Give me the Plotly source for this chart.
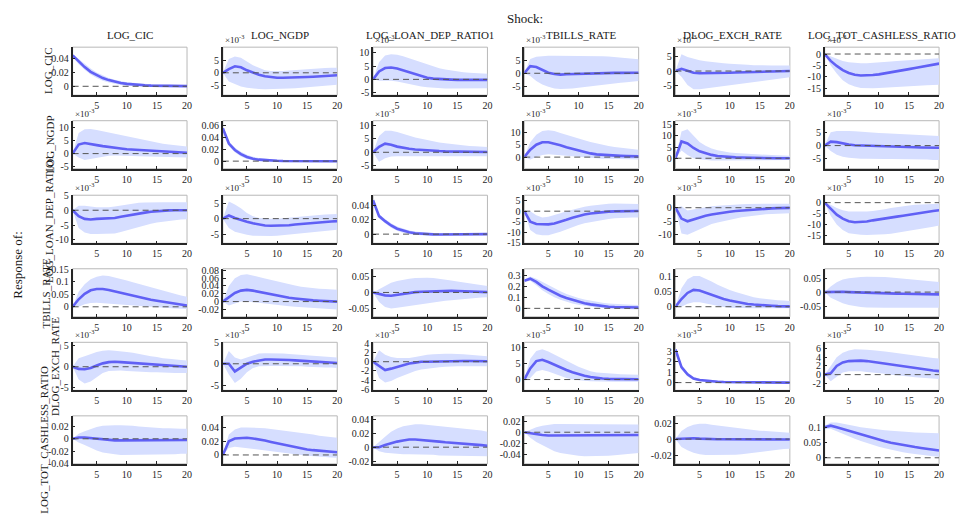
import plotly.graph_objects as go

# ---------------- data ----------------
horizon = list(range(1, 21))
shock_names = ["LOG_CIC", "LOG_NGDP", "LOG_LOAN_DEP_RATIO1", "TBILLS_RATE", "DLOG_EXCH_RATE", "LOG_TOT_CASHLESS_RATIO"]
response_names = ["LOG_CIC", "LOG_NGDP", "LOG_LOAN_DEP_RATIO1", "TBILLS_RATE", "DLOG_EXCH_RATE", "LOG_TOT_CASHLESS_RATIO"]

# Row 1: response of LOG_CIC (values in displayed units, see exponents)
irf_r1 = [
    [0.045,0.036,0.028,0.021,0.016,0.012,0.009,0.0065,0.0048,0.0035,0.0026,0.0019,0.0014,0.001,0.0008,0.0006,0.0005,0.0004,0.0003,0.0002],
    [0,1.5,2.6,2.2,1.0,0,-0.8,-1.4,-1.8,-2.0,-2.0,-2.0,-1.9,-1.8,-1.7,-1.6,-1.5,-1.3,-1.2,-1.0],
    [0,3,4.3,4.5,4.1,3.4,2.6,1.8,1.1,0.6,0.3,0.1,0,-0.1,-0.2,-0.2,-0.2,-0.2,-0.2,-0.2],
    [0,2.7,2.4,1.2,0.2,-0.3,-0.5,-0.4,-0.3,-0.2,-0.1,0,0.05,0.1,0.1,0.15,0.15,0.2,0.2,0.2],
    [0,0.8,0.1,-0.6,-0.8,-0.8,-0.8,-0.8,-0.7,-0.6,-0.5,-0.45,-0.4,-0.3,-0.25,-0.2,-0.15,-0.1,-0.05,0],
    [0,-3,-5.2,-7,-8.3,-9.1,-9.4,-9.4,-9.2,-8.9,-8.5,-8.1,-7.6,-7.1,-6.6,-6.1,-5.6,-5.1,-4.6,-4.2],
]
hi_r1 = [
    [0.047,0.040,0.032,0.026,0.020,0.016,0.012,0.0095,0.0075,0.006,0.005,0.004,0.0035,0.003,0.0025,0.0022,0.002,0.0018,0.0016,0.0015],
    [0,5.5,6.5,6,4.5,3,2,1,0.7,0.6,0.7,0.9,1.1,1.3,1.5,1.7,1.8,1.9,2,2],
    [0,6.5,9,9.5,9.3,8.8,8,7.2,6.3,5.5,4.8,4.2,3.7,3.3,3,2.7,2.5,2.3,2.2,2.1],
    [0,5.5,6.3,6.6,6.7,6.7,6.7,6.7,6.7,6.7,6.7,6.7,6.6,6.5,6.4,6.2,6,5.8,5.6,5.4],
    [0,6,5,4.3,3.8,3.5,3.2,3,2.8,2.6,2.4,2.3,2.2,2.1,2,2,2,2,2,2],
    [0,-1,-2,-3,-3.6,-3.9,-4,-4,-3.9,-3.7,-3.5,-3.3,-3.1,-2.9,-2.7,-2.5,-2.3,-2.1,-1.9,-1.8],
]
lo_r1 = [
    [0.043,0.032,0.024,0.017,0.012,0.008,0.0055,0.0035,0.002,0.001,0.0003,-0.0002,-0.0006,-0.0009,-0.001,-0.0011,-0.0011,-0.0011,-0.0011,-0.0011],
    [0,-3.5,-4.5,-5.5,-6,-6.3,-6.5,-6.6,-6.6,-6.5,-6.4,-6.3,-6.2,-6,-5.8,-5.6,-5.4,-5.2,-5,-4.8],
    [0,-0.5,-0.5,-0.5,-0.8,-1.3,-1.8,-2.3,-2.7,-3,-3.2,-3.4,-3.5,-3.5,-3.5,-3.5,-3.5,-3.5,-3.5,-3.4],
    [0,-1,-3,-4.3,-5.2,-5.8,-6,-6,-5.8,-5.5,-5.2,-5,-4.7,-4.4,-4.1,-3.8,-3.6,-3.4,-3.2,-3],
    [0,-2,-5,-6.5,-6.5,-6.2,-6,-5.8,-5.5,-5.2,-4.9,-4.6,-4.3,-4,-3.7,-3.4,-3.1,-2.8,-2.5,-2.2],
    [0,-5,-8.5,-11.5,-13.2,-14.2,-14.8,-15,-15,-14.9,-14.7,-14.5,-14.3,-14.1,-13.9,-13.8,-13.7,-13.6,-13.5,-13.4],
]

# Row 2: response of LOG_NGDP
irf_r2 = [
    [0,3.5,4.1,3.8,3.3,2.9,2.5,2.2,2,1.7,1.55,1.4,1.2,1,0.85,0.7,0.6,0.5,0.4,0.3],
    [0.056,0.03,0.019,0.012,0.007,0.004,0.0025,0.0015,0.001,0.0006,0.0003,0.0001,0,0,-0.0001,-0.0001,-0.0001,-0.0001,-0.0001,-0.0001],
    [0,2,3.2,2.8,2.1,1.6,1.3,1.05,0.85,0.7,0.55,0.45,0.35,0.3,0.25,0.2,0.15,0.15,0.1,0.1],
    [0,3,5,6,6,5.5,4.8,4,3.3,2.6,2,1.5,1.1,0.9,0.7,0.6,0.5,0.4,0.35,0.3],
    [0,7.5,6.6,4.6,3.1,2.2,1.5,1.0,0.7,0.5,0.4,0.3,0.2,0.15,0.1,0.05,0.03,0.02,0.01,0],
    [0,1.5,1.3,0.8,0.4,0.1,0,-0.1,-0.2,-0.3,-0.35,-0.4,-0.5,-0.55,-0.6,-0.65,-0.7,-0.75,-0.8,-0.8],
]
hi_r2 = [
    [0,8,9.5,9.6,9.2,8.7,8.1,7.5,7,6.5,6,5.5,5,4.6,4.2,3.8,3.5,3.2,3,2.8],
    [0.058,0.034,0.023,0.016,0.011,0.0075,0.0055,0.004,0.003,0.0024,0.002,0.0017,0.0015,0.0013,0.0012,0.0011,0.001,0.001,0.001,0.001],
    [0,6,8,8,7.5,6.8,6.1,5.5,5,4.5,4,3.6,3.3,3,2.7,2.5,2.3,2.2,2.1,2],
    [0,6,9,10.5,10.8,10.5,9.7,8.9,8.2,7.5,6.8,6.1,5.5,5,4.5,4.1,3.8,3.5,3.2,3],
    [0,12,13,10.3,7.3,5.6,4.4,3.6,3,2.6,2.3,2.1,1.9,1.7,1.6,1.5,1.4,1.3,1.2,1.1],
    [0,5,5.5,5.6,5.5,5.4,5.2,5,4.9,4.8,4.7,4.6,4.5,4.4,4.2,4.1,4,3.8,3.7,3.6],
]
lo_r2 = [
    [0,-1.5,-2.5,-2,-1.5,-1.1,-0.8,-0.7,-0.7,-0.8,-0.9,-1,-1.1,-1.2,-1.2,-1.3,-1.4,-1.4,-1.5,-1.5],
    [0.054,0.026,0.015,0.008,0.0035,0.0012,0,-0.0008,-0.0012,-0.0013,-0.0014,-0.0014,-0.0014,-0.0013,-0.0013,-0.0012,-0.0012,-0.0012,-0.0012,-0.0012],
    [0,-3.5,-2.2,-1.6,-1.5,-1.5,-1.5,-1.5,-1.5,-1.5,-1.5,-1.5,-1.5,-1.5,-1.5,-1.5,-1.5,-1.5,-1.5,-1.5],
    [0,-1,0,0.9,1.2,1,0.7,0.4,0.1,-0.1,-0.3,-0.5,-0.6,-0.7,-0.7,-0.8,-0.9,-0.9,-1,-1],
    [0,3.5,1.5,0,-0.5,-0.9,-1,-1,-1,-1,-0.9,-0.9,-0.9,-0.9,-0.8,-0.8,-0.8,-0.8,-0.8,-0.8],
    [0,-2,-3.5,-4.2,-4.6,-4.9,-5,-5,-5.1,-5.1,-5.1,-5.1,-5.1,-5.2,-5.2,-5.2,-5.3,-5.3,-5.4,-5.4],
]

# Row 3: response of LOG_LOAN_DEP_RATIO1
irf_r3 = [
    [0,-2,-2.9,-3.1,-2.9,-2.8,-2.9,-2.6,-2.2,-1.8,-1.4,-1.1,-0.8,-0.5,-0.3,-0.15,-0.05,0,0,0],
    [0,1,0.2,-0.5,-1,-1.5,-1.9,-2.2,-2.3,-2.3,-2.2,-2.1,-1.9,-1.7,-1.5,-1.3,-1.1,-1,-0.9,-0.8],
    [0.047,0.025,0.018,0.012,0.0075,0.0045,0.0025,0.0013,0.0005,0,-0.0003,-0.0005,-0.0005,-0.0005,-0.0004,-0.0003,-0.0002,-0.0001,0,0],
    [0,-5,-6.1,-6.3,-6.3,-5.9,-5.1,-4.1,-3.1,-2.3,-1.6,-1.1,-0.7,-0.4,-0.2,-0.1,0,0,0.05,0.05],
    [0,-4,-5,-4.3,-3.6,-3,-2.5,-2.1,-1.8,-1.5,-1.2,-1,-0.8,-0.6,-0.45,-0.35,-0.25,-0.15,-0.1,-0.05],
    [0,-3,-5.5,-7.3,-8.5,-9,-8.9,-8.6,-8.1,-7.6,-7.2,-6.8,-6.4,-6,-5.5,-5,-4.6,-4.2,-3.8,-3.5],
]
hi_r3 = [
    [0,1.5,1.5,1.2,1,1,1,1.3,1.6,2,2.3,2.5,2.6,2.7,2.7,2.7,2.7,2.7,2.7,2.7],
    [0,5.5,4.5,3.3,1.8,0.8,0.2,0,0,0,0.2,0.4,0.6,0.8,1,1.1,1.2,1.3,1.4,1.5],
    [0.049,0.028,0.021,0.015,0.0105,0.0073,0.005,0.0035,0.0025,0.0018,0.0013,0.001,0.0008,0.0007,0.0007,0.0007,0.0007,0.0007,0.0007,0.0007],
    [0,0,-2,-3,-2.7,-2,-1,0,0.8,1.5,2.1,2.6,3,3.3,3.5,3.6,3.6,3.6,3.5,3.4],
    [0,0.5,-1,-0.6,-0.1,0.2,0.5,0.7,0.9,1,1.2,1.3,1.4,1.5,1.5,1.5,1.5,1.5,1.5,1.5],
    [0,-1,-2.5,-3.5,-4,-4.1,-4.1,-4,-3.8,-3.5,-3,-2.5,-2,-1.6,-1.3,-1,-0.8,-0.7,-0.6,-0.5],
]
lo_r3 = [
    [0,-6,-7.5,-8,-8,-8,-8,-7.8,-7.3,-6.7,-6.1,-5.5,-5,-4.5,-4.1,-3.8,-3.5,-3.3,-3.1,-3],
    [0,-3,-4.2,-4.8,-5.2,-5.5,-5.6,-5.6,-5.6,-5.5,-5.3,-5.1,-4.9,-4.6,-4.4,-4.2,-4,-3.8,-3.7,-3.6],
    [0.045,0.022,0.015,0.009,0.0048,0.0018,0,-0.001,-0.0015,-0.0018,-0.0019,-0.002,-0.0019,-0.0018,-0.0016,-0.0014,-0.0012,-0.001,-0.0009,-0.0008],
    [0,-9,-11,-11.5,-11.5,-10.7,-9.8,-8.7,-7.6,-6.6,-5.8,-5.2,-4.6,-4.1,-3.7,-3.4,-3.2,-3.1,-3,-3],
    [0,-9.5,-10,-9,-7.8,-6.8,-6,-5.4,-4.9,-4.4,-3.9,-3.5,-3.2,-2.9,-2.6,-2.4,-2.3,-2.2,-2.1,-2],
    [0,-6,-10,-12.5,-14,-14.5,-14.7,-14.8,-14.8,-14.7,-14.5,-14.2,-13.8,-13.4,-13,-12.5,-12,-11.5,-11,-10.5],
]

# Row 4: response of TBILLS_RATE
irf_r4 = [
    [0,0.03,0.052,0.066,0.071,0.071,0.067,0.061,0.055,0.049,0.043,0.038,0.033,0.028,0.024,0.02,0.016,0.012,0.008,0.005],
    [0,0.01,0.022,0.028,0.03,0.028,0.025,0.021,0.018,0.015,0.012,0.01,0.008,0.006,0.0045,0.003,0.002,0.001,0.0005,0],
    [0,-0.005,-0.009,-0.01,-0.007,-0.003,0,0.001,0.002,0.003,0.004,0.0045,0.005,0.005,0.0045,0.004,0.003,0.0025,0.002,0.001],
    [0.25,0.27,0.24,0.2,0.17,0.14,0.115,0.095,0.077,0.06,0.047,0.036,0.027,0.02,0.015,0.012,0.011,0.01,0.009,0.008],
    [0,0.025,0.045,0.055,0.053,0.046,0.038,0.031,0.025,0.02,0.016,0.012,0.009,0.007,0.005,0.004,0.003,0.002,0.0015,0.001],
    [0,0.001,0.001,0.001,0,-0.001,-0.002,-0.003,-0.0035,-0.004,-0.0045,-0.005,-0.0055,-0.006,-0.0065,-0.007,-0.0072,-0.0075,-0.0078,-0.008],
]
hi_r4 = [
    [0,0.06,0.09,0.11,0.12,0.125,0.123,0.118,0.112,0.105,0.098,0.091,0.084,0.077,0.07,0.063,0.057,0.051,0.045,0.04],
    [0,0.04,0.06,0.068,0.07,0.067,0.063,0.059,0.055,0.051,0.047,0.044,0.041,0.038,0.036,0.034,0.033,0.032,0.031,0.03],
    [0,0.01,0.02,0.03,0.036,0.04,0.043,0.045,0.046,0.046,0.045,0.043,0.04,0.037,0.034,0.031,0.028,0.025,0.022,0.02],
    [0.26,0.29,0.27,0.24,0.21,0.18,0.155,0.13,0.11,0.095,0.08,0.068,0.058,0.05,0.045,0.04,0.037,0.035,0.032,0.03],
    [0,0.06,0.09,0.1,0.1,0.092,0.082,0.072,0.063,0.055,0.048,0.042,0.036,0.031,0.028,0.025,0.023,0.021,0.02,0.019],
    [0,0.02,0.035,0.045,0.049,0.052,0.054,0.055,0.055,0.055,0.054,0.052,0.05,0.048,0.046,0.044,0.042,0.04,0.038,0.036],
]
lo_r4 = [
    [0,0,0.01,0.015,0.016,0.014,0.012,0.01,0.008,0.006,0.004,0.002,0,-0.002,-0.004,-0.005,-0.006,-0.007,-0.008,-0.009],
    [0,-0.01,-0.005,0,0,-0.001,-0.003,-0.005,-0.007,-0.009,-0.011,-0.012,-0.013,-0.014,-0.015,-0.016,-0.017,-0.018,-0.019,-0.02],
    [0,-0.03,-0.045,-0.05,-0.048,-0.045,-0.042,-0.04,-0.038,-0.035,-0.032,-0.029,-0.026,-0.024,-0.022,-0.02,-0.019,-0.017,-0.016,-0.015],
    [0.24,0.25,0.21,0.165,0.13,0.1,0.078,0.06,0.045,0.032,0.022,0.014,0.008,0.003,0,-0.003,-0.005,-0.007,-0.008,-0.01],
    [0,0,0.01,0.015,0.015,0.011,0.006,0.002,-0.001,-0.003,-0.004,-0.005,-0.005,-0.005,-0.005,-0.005,-0.005,-0.005,-0.005,-0.005],
    [0,-0.02,-0.03,-0.04,-0.046,-0.05,-0.053,-0.055,-0.056,-0.056,-0.056,-0.056,-0.056,-0.056,-0.056,-0.056,-0.056,-0.056,-0.056,-0.056],
]

# Row 5: response of DLOG_EXCH_RATE
irf_r5 = [
    [0,-0.5,-0.6,-0.3,0.3,0.8,1.1,1.2,1.1,1,0.9,0.8,0.65,0.5,0.4,0.3,0.2,0.1,0.05,0],
    [0,0,-1.8,-1,0,0.5,0.8,1,1,1,0.95,0.9,0.8,0.7,0.6,0.5,0.4,0.3,0.25,0.2],
    [0,-1,-1.8,-1.5,-1.1,-0.7,-0.4,-0.2,0,0,0.05,0.1,0.1,0.15,0.15,0.15,0.15,0.1,0.1,0.1],
    [0,3.5,5.8,6.2,5.5,4.6,3.8,3,2.3,1.7,1.2,0.8,0.5,0.3,0.2,0.15,0.1,0.1,0.1,0.1],
    [3.2,1.5,0.8,0.4,0.25,0.18,0.12,0.08,0.06,0.05,0.04,0.03,0.02,0.015,0.01,0.01,0.005,0,0,0],
    [0,0.3,2,2.8,3.1,3.2,3.2,3.1,2.9,2.7,2.5,2.3,2.05,1.8,1.6,1.4,1.25,1.1,0.95,0.8],
]
hi_r5 = [
    [0,2,2.5,3,3.5,3.8,3.9,3.8,3.7,3.5,3.3,3,2.8,2.5,2.3,2,1.9,1.7,1.6,1.5],
    [0,3,1.5,1,1.5,2,2.4,2.5,2.5,2.5,2.4,2.3,2.2,2.1,2,1.9,1.8,1.7,1.6,1.5],
    [0,2.5,1.5,1,0.8,0.8,0.8,1,1.3,1.5,1.6,1.7,1.7,1.7,1.7,1.6,1.5,1.4,1.3,1.2],
    [0,6.5,9,9.5,8.8,7.8,6.8,5.8,4.8,4,3.3,2.6,2.2,2,1.9,1.8,1.7,1.6,1.55,1.5],
    [3.3,1.7,1.0,0.55,0.38,0.3,0.24,0.2,0.17,0.15,0.13,0.12,0.11,0.1,0.09,0.08,0.08,0.07,0.07,0.06],
    [0,2,4,5,5.5,5.8,5.8,5.7,5.6,5.5,5.3,5.1,4.9,4.7,4.5,4.3,4.1,4,3.8,3.7],
]
lo_r5 = [
    [0,-3,-4,-3.5,-2.5,-1.5,-1,-0.9,-0.9,-1,-1.1,-1.2,-1.2,-1.3,-1.3,-1.4,-1.4,-1.5,-1.5,-1.5],
    [0,-2.5,-4.5,-3.5,-2,-1,-0.6,-0.5,-0.5,-0.5,-0.5,-0.5,-0.6,-0.6,-0.7,-0.8,-0.8,-0.9,-0.9,-1],
    [0,-3.5,-4.5,-4.2,-3.5,-3,-2.5,-2,-1.7,-1.5,-1.3,-1.2,-1.1,-1,-1,-1,-1,-1,-1,-1],
    [0,0.5,2.5,3,2.5,1.8,1.2,0.5,0,-0.3,-0.4,-0.5,-0.6,-0.7,-0.7,-0.7,-0.7,-0.7,-0.7,-0.7],
    [3.1,1.3,0.6,0.25,0.12,0.06,0.02,-0.02,-0.04,-0.05,-0.05,-0.06,-0.06,-0.06,-0.06,-0.06,-0.06,-0.06,-0.06,-0.06],
    [0,-1.5,-0.5,0.5,0.8,0.8,0.8,0.6,0.5,0.4,0.2,0,-0.1,-0.3,-0.4,-0.6,-0.7,-0.8,-0.9,-1],
]

# Row 6: response of LOG_TOT_CASHLESS_RATIO
irf_r6 = [
    [0,0.002,0.002,0.001,0,-0.001,-0.002,-0.0025,-0.0025,-0.0025,-0.0025,-0.0028,-0.003,-0.003,-0.003,-0.003,-0.0028,-0.0025,-0.0022,-0.002],
    [0,0.02,0.024,0.025,0.025,0.024,0.023,0.021,0.019,0.017,0.015,0.013,0.011,0.0095,0.008,0.007,0.006,0.005,0.0045,0.004],
    [0,0,0.003,0.006,0.008,0.0095,0.011,0.011,0.0105,0.0095,0.009,0.008,0.007,0.0065,0.006,0.005,0.0045,0.0035,0.003,0.002],
    [0,-0.002,-0.004,-0.005,-0.006,-0.006,-0.006,-0.006,-0.006,-0.006,-0.006,-0.006,-0.006,-0.006,-0.006,-0.0058,-0.0055,-0.0053,-0.005,-0.005],
    [0,0.0005,0.001,0.001,0.0005,0,0,-0.0002,-0.0003,-0.0004,-0.0005,-0.0005,-0.0005,-0.0005,-0.0005,-0.0005,-0.0005,-0.0005,-0.0005,-0.0005],
    [0.1,0.105,0.1,0.094,0.088,0.082,0.076,0.07,0.064,0.059,0.054,0.049,0.045,0.041,0.038,0.035,0.032,0.029,0.026,0.024],
]
hi_r6 = [
    [0,0.008,0.012,0.016,0.019,0.021,0.022,0.022,0.022,0.022,0.021,0.02,0.019,0.018,0.018,0.017,0.017,0.016,0.016,0.016],
    [0,0.03,0.037,0.04,0.04,0.04,0.0395,0.039,0.038,0.037,0.036,0.035,0.0335,0.032,0.031,0.03,0.028,0.027,0.026,0.025],
    [0,0.008,0.015,0.022,0.027,0.03,0.032,0.033,0.033,0.032,0.032,0.031,0.03,0.029,0.028,0.027,0.026,0.025,0.024,0.022],
    [0,0.005,0.009,0.012,0.014,0.015,0.015,0.015,0.015,0.015,0.015,0.015,0.015,0.015,0.015,0.015,0.015,0.014,0.014,0.014],
    [0,0.01,0.015,0.018,0.019,0.019,0.018,0.017,0.016,0.015,0.014,0.013,0.012,0.011,0.0105,0.01,0.0095,0.009,0.0085,0.008],
    [0.105,0.115,0.115,0.112,0.108,0.104,0.1,0.097,0.094,0.092,0.09,0.088,0.086,0.085,0.084,0.083,0.082,0.081,0.08,0.08],
]
lo_r6 = [
    [0,-0.006,-0.01,-0.015,-0.019,-0.022,-0.024,-0.025,-0.026,-0.026,-0.026,-0.026,-0.026,-0.026,-0.026,-0.025,-0.025,-0.025,-0.024,-0.024],
    [0,0.01,0.012,0.011,0.01,0.008,0.007,0.006,0.005,0.004,0.003,0.002,0.001,0,-0.001,-0.002,-0.0025,-0.003,-0.0035,-0.004],
    [0,-0.006,-0.008,-0.009,-0.01,-0.01,-0.01,-0.01,-0.01,-0.011,-0.011,-0.012,-0.012,-0.013,-0.013,-0.013,-0.013,-0.013,-0.013,-0.013],
    [0,-0.01,-0.018,-0.024,-0.03,-0.035,-0.038,-0.04,-0.042,-0.043,-0.044,-0.044,-0.044,-0.044,-0.043,-0.042,-0.041,-0.04,-0.039,-0.038],
    [0,-0.01,-0.014,-0.017,-0.019,-0.02,-0.02,-0.02,-0.02,-0.02,-0.0195,-0.019,-0.018,-0.017,-0.016,-0.015,-0.014,-0.013,-0.0125,-0.012],
    [0.095,0.095,0.087,0.078,0.07,0.062,0.055,0.048,0.042,0.036,0.031,0.026,0.022,0.018,0.015,0.012,0.009,0.007,0.005,0.003],
]

# y-axis tick values per panel (displayed units)
yticks = [
    [[0,0.02,0.04],[-5,0,5],[-5,0,5,10],[-5,0,5],[-5,0,5],[-15,-10,-5,0]],
    [[-5,0,5,10],[0,0.02,0.04,0.06],[-5,0,5,10],[0,5,10],[0,5,10,15],[-5,0,5]],
    [[-10,-5,0,5],[-5,0,5],[0,0.02,0.04],[-15,-10,-5,0,5],[-10,-5,0],[-15,-10,-5,0]],
    [[0,0.05,0.1,0.15],[-0.02,0,0.02,0.04,0.06,0.08],[-0.05,0,0.05],[0,0.1,0.2,0.3],[0,0.05,0.1],[-0.05,0,0.05]],
    [[-5,0,5],[-5,0,5],[-6,-4,-2,0,2,4],[0,5,10],[0,1,2,3],[-2,0,2,4,6]],
    [[-0.04,-0.02,0,0.02],[0,0.02,0.04],[-0.02,0,0.02,0.04],[-0.04,-0.02,0,0.02],[-0.02,0,0.02],[0,0.05,0.1]],
]
xticks = [5, 10, 15, 20]
# axis multipliers (x10^k) shown above panels; None = no multiplier
exponents = [
    [None,-3,-3,-3,-3,-3],
    [-3,None,-3,-3,-3,-3],
    [-3,-3,None,-3,-3,-3],
    [None,None,None,None,None,None],
    [-3,-3,-3,-3,-3,-3],
    [None,None,None,None,None,None],
]

# ---------------- layout / styling ----------------
W, H = 958, 514
yranges = [
    [[-0.013,0.057],[-9,10.3],[-6,12.2],[-8.4,10],[-8.6,8.5],[-18,3]],
    [[-5.9,12.8],[-0.013,0.069],[-6.1,11.7],[-4.7,14.7],[-4.7,16.8],[-8.75,9.4]],
    [[-11.1,5.05],[-7.9,7.5],[-0.0127,0.054],[-15.3,7.6],[-13.1,4.6],[-18.6,3.4]],
    [[-0.04,0.152],[-0.039,0.084],[-0.076,0.074],[-0.077,0.36],[-0.033,0.124],[-0.088,0.083]],
    [[-5.6,5.8],[-6.25,5.05],[-6.2,4.2],[-3.4,11.7],[-0.75,3.9],[-3.6,7.4]],
    [[-0.0405,0.037],[-0.013,0.057],[-0.024,0.045],[-0.058,0.03],[-0.031,0.029],[-0.02,0.137]],
]
col_left = [73, 224, 375, 527, 679, 829]
row_top = [43, 118, 194, 269, 344, 419]
pw, ph = 115, 49
row_label_x = [48, 50, 50, 46, 56, 44]

FONT = "Liberation Serif, Times New Roman, serif"
LINE_C = "rgb(96,96,245)"
BAND_C = "rgb(214,222,255)"
ZERO_C = "#555555"

irf_rows = [irf_r1, irf_r2, irf_r3, irf_r4, irf_r5, irf_r6]
hi_rows = [hi_r1, hi_r2, hi_r3, hi_r4, hi_r5, hi_r6]
lo_rows = [lo_r1, lo_r2, lo_r3, lo_r4, lo_r5, lo_r6]

def fmt(v):
    return "%g" % v

fig = go.Figure()
layout = {}
shapes = []
annotations = []

for r in range(6):
    for c in range(6):
        k = r * 6 + c + 1
        xa = "x" if k == 1 else f"x{k}"
        ya = "y" if k == 1 else f"y{k}"
        fig.add_trace(go.Scatter(x=horizon, y=lo_rows[r][c], xaxis=xa, yaxis=ya, mode="lines",
                                 line=dict(width=0, color=BAND_C), showlegend=False, hoverinfo="skip"))
        fig.add_trace(go.Scatter(x=horizon, y=hi_rows[r][c], xaxis=xa, yaxis=ya, mode="lines",
                                 line=dict(width=0, color=BAND_C), fill="tonexty", fillcolor=BAND_C,
                                 showlegend=False, hoverinfo="skip"))
        fig.add_trace(go.Scatter(x=horizon, y=irf_rows[r][c], xaxis=xa, yaxis=ya, mode="lines",
                                 line=dict(width=2.6, color=LINE_C), showlegend=False))
        fig.add_trace(go.Scatter(x=[horizon[0], horizon[-1]], y=[0, 0], xaxis=xa, yaxis=ya, mode="lines",
                                 line=dict(width=1, color=ZERO_C, dash="6px,4px"), showlegend=False,
                                 hoverinfo="skip"))
        x0 = col_left[c] / W
        x1 = (col_left[c] + pw) / W
        y1 = 1 - row_top[r] / H
        y0 = 1 - (row_top[r] + ph) / H
        axname_x = "xaxis" if k == 1 else f"xaxis{k}"
        axname_y = "yaxis" if k == 1 else f"yaxis{k}"
        layout[axname_x] = dict(domain=[x0, x1], anchor=ya, range=[1, 20], tickvals=xticks,
                                ticktext=[str(v) for v in xticks], showgrid=False, zeroline=False,
                                showline=True, linecolor="#262626", linewidth=1.5,
                                ticks="inside", ticklen=3, tickcolor="#262626",
                                tickfont=dict(family=FONT, size=10, color="#262626"))
        tv = yticks[r][c]
        layout[axname_y] = dict(domain=[y0, y1], anchor=xa, range=yranges[r][c], tickvals=tv,
                                ticktext=[fmt(v) for v in tv], showgrid=False, zeroline=False,
                                showline=True, linecolor="#262626", linewidth=1.5,
                                ticks="inside", ticklen=3, tickcolor="#262626",
                                tickfont=dict(family=FONT, size=10, color="#262626"))
        shapes.append(dict(type="rect", xref=f"{xa} domain", yref=f"{ya} domain", x0=0, x1=1, y0=0, y1=1,
                           line=dict(color="#b8b8b8", width=1), layer="below"))
        e = exponents[r][c]
        if e is not None:
            annotations.append(dict(x=x0, y=y1, xref="paper", yref="paper", xanchor="left", yanchor="bottom",
                                    text=f"×10<sup>{e}</sup>", showarrow=False,
                                    font=dict(family=FONT, size=9, color="#262626")))

for c in range(6):
    annotations.append(dict(x=(col_left[c] + pw / 2) / W, y=1 - 39 / H, xref="paper", yref="paper",
                            xanchor="center", yanchor="bottom", text=shock_names[c], showarrow=False,
                            font=dict(family=FONT, size=11, color="#1a1a1a")))
for r in range(6):
    annotations.append(dict(x=row_label_x[r] / W, y=1 - (row_top[r] + ph / 2) / H, xref="paper", yref="paper",
                            xanchor="center", yanchor="middle", text=response_names[r], textangle=-90,
                            showarrow=False, font=dict(family=FONT, size=11, color="#1a1a1a")))
annotations.append(dict(x=528 / W, y=1 - 14 / H, xref="paper", yref="paper", xanchor="center", yanchor="middle",
                        text="Shock:", showarrow=False, font=dict(family=FONT, size=13, color="#1a1a1a")))
annotations.append(dict(x=18 / W, y=1 - 265 / H, xref="paper", yref="paper", xanchor="center", yanchor="middle",
                        text="Response of:", textangle=-90, showarrow=False,
                        font=dict(family=FONT, size=13, color="#1a1a1a")))

fig.update_layout(width=W, height=H, margin=dict(l=0, r=0, t=0, b=0), plot_bgcolor="white",
                  paper_bgcolor="white", showlegend=False, shapes=shapes, annotations=annotations,
                  font=dict(family=FONT), **layout)

fig.write_html("out.html", config={"displayModeBar": False},
               post_script="document.body.style.margin='0px';document.body.style.overflow='hidden';")
